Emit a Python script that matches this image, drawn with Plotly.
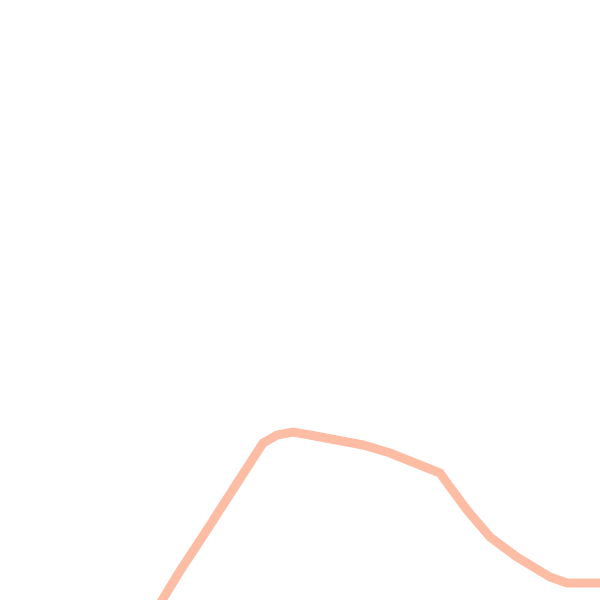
import plotly.graph_objects as go

# Trace (x to the right, y up from the bottom edge)
x_vals = [150, 163, 180, 203, 230, 250, 263, 277, 293, 310, 337, 363, 390,
          417, 440, 450, 467, 490, 517, 550, 567, 600, 620]
y_vals = [-20, 2, 29, 64, 106, 137, 157, 165, 168, 165, 160, 155, 147,
          137, 127, 113, 90, 63, 43, 23, 17, 17, 17]

fig = go.Figure(go.Scatter(
    x=x_vals,
    y=y_vals,
    mode='lines',
    line=dict(color='#fdbda5', width=9),
    hoverinfo='skip'
))

fig.update_layout(
    width=600,
    height=600,
    margin=dict(l=0, r=0, t=0, b=0),
    paper_bgcolor='white',
    plot_bgcolor='white',
    showlegend=False,
    xaxis=dict(range=[0, 600], visible=False, fixedrange=True),
    yaxis=dict(range=[0, 600], visible=False, fixedrange=True),
)

# drop the page's default body margin so the 600x600 figure sits at the corner
fig.write_html("out.html", config={'displayModeBar': False},
               post_script="document.body.style.margin='0';document.body.style.overflow='hidden';")
